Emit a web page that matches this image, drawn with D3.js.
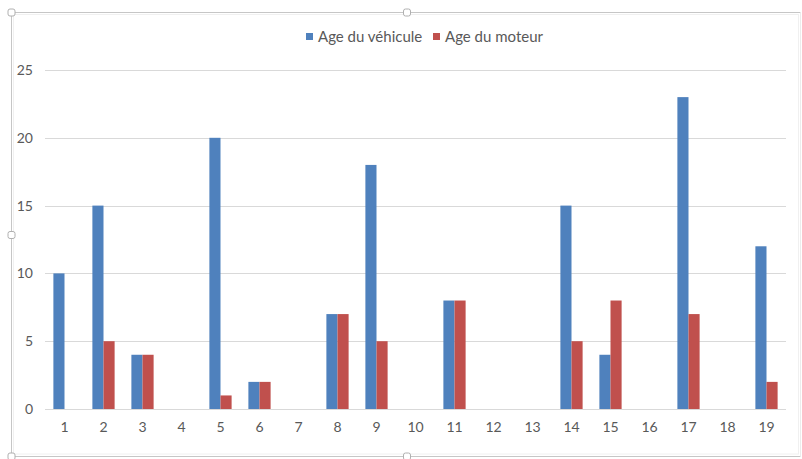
<!DOCTYPE html>
<html>
<head>
<meta charset="utf-8">
<script src="https://cdn.jsdelivr.net/npm/d3@7"></script>
<style>
  html, body { margin: 0; padding: 0; background: #fff; }
  svg { display: block; }
  text { font-family: Lato, "Open Sans", sans-serif; fill: #595959; }
</style>
</head>
<body>
<svg id="chart" width="802" height="459"></svg>
<script>
// Vehicle number on the x axis
const categories = ["1","2","3","4","5","6","7","8","9","10","11","12","13","14","15","16","17","18","19"];
const seriesNames = ["Age du véhicule", "Age du moteur"];
const ageVehicule = [10, 15, 4, 0, 20, 2, 0, 7, 18, 0, 8, 0, 0, 15, 4, 0, 23, 0, 12];
const ageMoteur   = [0, 5, 4, 0, 1, 2, 0, 7, 5, 0, 8, 0, 0, 5, 8, 0, 7, 0, 2];
const yTicks = [0, 5, 10, 15, 20, 25];

const colors = ["#4f81bd", "#c0504d"];
const fontStack = "Lato, 'Open Sans', sans-serif";
const svg = d3.select("#chart");

// chart frame with selection handles
svg.append("path")
  .attr("d", "M800.5,12.5 H11.5 V456.5 H800.5")
  .attr("fill", "none").attr("stroke", "#c6c6c6");
svg.append("line").attr("x1", 800.5).attr("x2", 800.5).attr("y1", 12.5).attr("y2", 456.5)
  .attr("stroke", "#ececec");
svg.append("rect").attr("x", 13.5).attr("y", 14.5).attr("width", 785).attr("height", 439.5)
  .attr("fill", "none").attr("stroke", "#f0f0f0");
const handles = [[11.5, 12.5], [407, 12.5], [11.5, 235], [11.5, 456.5], [407, 456.5]];
svg.selectAll("rect.handle").data(handles).join("rect")
  .attr("class", "handle")
  .attr("x", d => d[0] - 3.5).attr("y", d => d[1] - 3.5)
  .attr("width", 7).attr("height", 7).attr("rx", 2)
  .attr("fill", "#fff").attr("stroke", "#b0b0b0");

const x0 = d3.scaleBand().domain(categories).range([45, 786]).paddingInner(0.43).paddingOuter(0.215);
const x1 = d3.scaleBand().domain(seriesNames).range([0, x0.bandwidth()]);
const y = d3.scaleLinear().domain([0, 25]).range([409, 70]);

// gridlines
svg.append("g").selectAll("line").data(yTicks).join("line")
  .attr("x1", 45).attr("x2", 786)
  .attr("y1", d => Math.round(y(d)) + 0.5).attr("y2", d => Math.round(y(d)) + 0.5)
  .attr("stroke", "#d9d9d9").attr("stroke-width", 1);

// y axis labels
const yAxis = d3.axisLeft(y).tickValues(yTicks).tickSize(0).tickPadding(0);
const yg = svg.append("g").attr("transform", "translate(33,0)").call(yAxis);
yg.select(".domain").remove();
yg.selectAll("text").attr("font-size", 14).attr("fill", "#595959")
  .style("font-family", fontStack);

// x axis labels
const xAxis = d3.axisBottom(x0).tickSize(0).tickPadding(0);
const xg = svg.append("g").attr("transform", "translate(0,422)").call(xAxis);
xg.select(".domain").remove();
xg.selectAll("text").attr("font-size", 14).attr("fill", "#595959")
  .style("font-family", fontStack);

// bars
const rows = categories.map((c, i) => ({ cat: c, vals: [ageVehicule[i], ageMoteur[i]] }));
const groups = svg.append("g").selectAll("g").data(rows).join("g")
  .attr("transform", d => `translate(${x0(d.cat)},0)`);
groups.selectAll("rect").data(d => d.vals.map((v, j) => ({ key: seriesNames[j], v, j })))
  .join("rect")
  .attr("x", d => x1(d.key))
  .attr("width", x1.bandwidth())
  .attr("y", d => y(d.v))
  .attr("height", d => y(0) - y(d.v))
  .attr("fill", d => colors[d.j]);

// legend
const legendPos = [306, 433];
const lg = svg.append("g").selectAll("g").data(seriesNames).join("g")
  .attr("transform", (d, i) => `translate(${legendPos[i]},33)`);
lg.append("rect").attr("width", 7).attr("height", 7).attr("y", 0).attr("fill", (d, i) => colors[i]);
lg.append("text").attr("x", 12).attr("y", 9).attr("font-size", 15).text(d => d);
</script>
</body>
</html>
